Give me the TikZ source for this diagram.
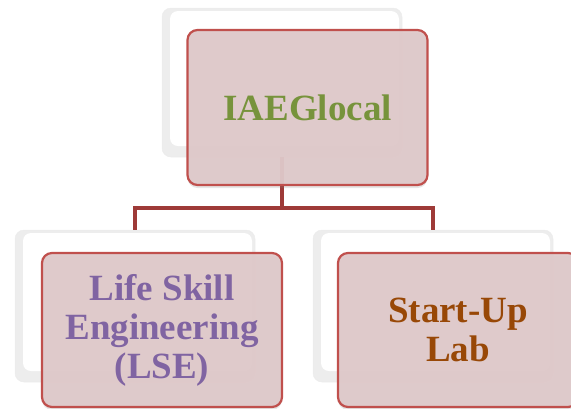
\documentclass[tikz,border=0pt]{standalone}
\usepackage{fontspec}
\setmainfont{Liberation Serif}
\usetikzlibrary{calc,shadows}
\definecolor{boxfill}{RGB}{223,201,202}
\definecolor{boxline}{RGB}{192,80,77}
\definecolor{conn}{RGB}{158,58,56}
\definecolor{txtgreen}{RGB}{119,147,60}
\definecolor{txtpurple}{RGB}{128,100,162}
\definecolor{txtbrown}{RGB}{152,72,7}
\begin{document}
\begin{tikzpicture}[x=1pt,y=-1pt,
  backbox/.style={draw=gray!15, line width=0.5pt, fill=gray!14, rounded corners=9pt,
    minimum width=240pt, inner sep=0pt,
    path picture={\fill[white, rounded corners=8pt]
      ([xshift=8pt,yshift=-3pt]path picture bounding box.north west) rectangle
      ([xshift=-3pt,yshift=11pt]path picture bounding box.south east);}},
  frontbox/.style={draw=boxline, line width=2.2pt, fill=boxfill, fill opacity=0.95, text opacity=1,
    rounded corners=10pt, minimum width=240pt, inner sep=0pt, align=center,
    font=\bfseries\fontsize{37}{39}\selectfont,
    drop shadow={opacity=0.2, shadow xshift=0pt, shadow yshift=-3pt}},
  conline/.style={draw=conn, line width=4.5pt}
]
\useasboundingbox (0,0) rectangle (571,408);
\clip (0,0) rectangle (571,408);
% back boxes
\node[backbox, minimum height=149pt] (topback) at (282,82.5) {};
\node[backbox, minimum height=152pt] (lseback) at (135,306) {};
\node[backbox, minimum height=152pt] (labback) at (433,306) {};
% connectors
\coordinate (bus) at (282,208);
\draw[conline] (topback.south) -- (bus) -| (lseback.north);
\draw[conline] (bus) -| (labback.north);
% front boxes
\node[frontbox, minimum height=155pt, text=txtgreen] (top) at (307.5,107.5) {IAEGlocal};
\node[frontbox, minimum height=154pt, text=txtpurple] (lse) at (162,330) {Life Skill\\Engineering\\(LSE)};
\node[frontbox, minimum height=154pt, text=txtbrown] (lab) at (458,330) {Start-Up\\Lab};
\end{tikzpicture}
\end{document}
